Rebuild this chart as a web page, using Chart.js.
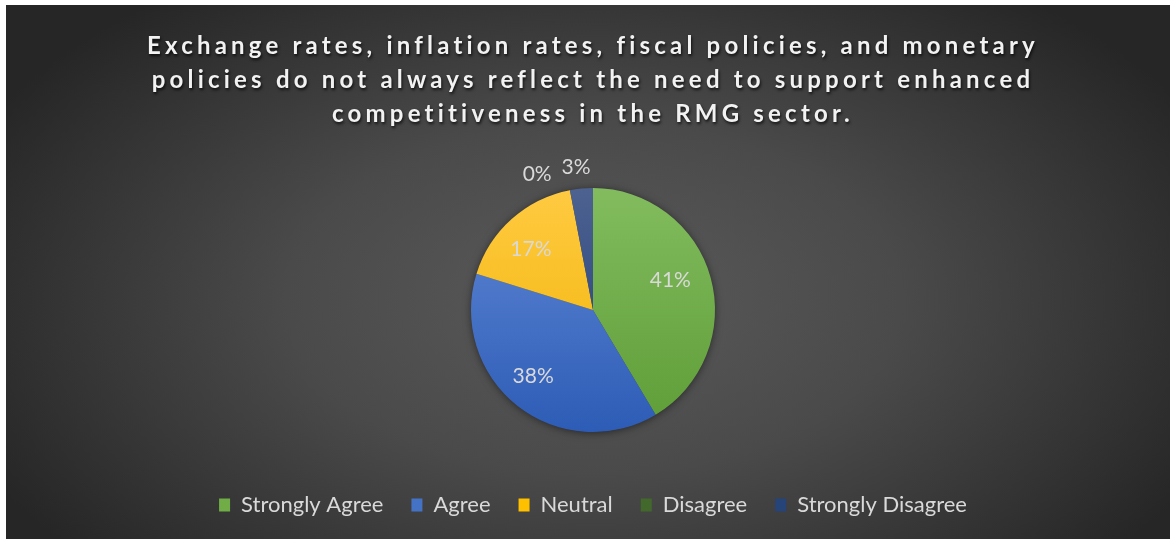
<!DOCTYPE html>
<html>
<head>
<meta charset="utf-8">
<script src="https://cdn.jsdelivr.net/npm/chart.js@4.4.1/dist/chart.umd.min.js"></script>
<style>
  html, body { margin: 0; padding: 0; background: #ffffff; }
  body { width: 1170px; height: 539px; position: relative; overflow: hidden; }
  #chart { position: absolute; left: 6px; top: 5px; }
</style>
</head>
<body>
<canvas id="chart" width="1164" height="534"></canvas>
<script>
// Survey responses (percent of respondents)
const categories = ['Strongly Agree', 'Agree', 'Neutral', 'Disagree', 'Strongly Disagree'];
const shares = [41, 38, 17, 0, 3];
const titleLines = [
  'Exchange rates, inflation rates, fiscal policies, and monetary',
  'policies do not always reflect the need to support enhanced',
  'competitiveness in the RMG sector.'
];

// Slice colours: [top of pie, bottom of pie]
const sliceShades = [
  ['#82bc5e', '#5e9d37'],
  ['#6189d6', '#2d5cb6'],
  ['#ffca42', '#efb300'],
  ['#517d35', '#3a5c25'],
  ['#4d6290', '#1d3a76']
];
const legendColors = ['#70ad47', '#4472c4', '#ffc000', '#43682b', '#264478'];

// Where each percentage label sits: fraction of radius and angle shift (deg)
const labelRadius = [0.68, 0.73, 0.71, 1.2, 1.18];
const labelShift = [-5.8, 4, -4, -11.5, -1.3];

const PIE_RADIUS = 122;
const TEXT_GREY = '#d9d9d9';
const FONT = 'Lato, "Open Sans", sans-serif';

const backdrop = {
  id: 'backdrop',
  beforeDraw(chart) {
    const { ctx, width, height } = chart;
    ctx.save();
    const cx = width * 0.505, cy = height * 0.55;
    ctx.translate(cx, cy);
    ctx.scale(1.75, 1);
    const g = ctx.createRadialGradient(0, 0, 0, 0, 0, 390);
    g.addColorStop(0, '#5a5a5a');
    g.addColorStop(0.45, '#4a4a4a');
    g.addColorStop(1, '#262626');
    ctx.fillStyle = g;
    ctx.fillRect(-cx / 1.75 - 10, -cy - 10, width / 1.75 + 20, height + 20);
    ctx.restore();
  }
};

// Soft shadow behind the whole pie
const pieShadow = {
  id: 'pieShadow',
  beforeDatasetsDraw(chart) {
    const arc = chart.getDatasetMeta(0).data[0];
    if (!arc) return;
    const { ctx } = chart;
    ctx.save();
    ctx.shadowColor = 'rgba(0,0,0,0.55)';
    ctx.shadowBlur = 9;
    ctx.shadowOffsetY = 1;
    ctx.beginPath();
    ctx.arc(arc.x, arc.y, arc.outerRadius - 0.5, 0, Math.PI * 2);
    ctx.fillStyle = '#4a4a4a';
    ctx.fill();
    ctx.restore();
  }
};

// Percentage labels placed from each arc's own geometry
const sliceLabels = {
  id: 'sliceLabels',
  afterDatasetsDraw(chart) {
    const { ctx } = chart;
    const meta = chart.getDatasetMeta(0);
    ctx.save();
    ctx.font = '21px ' + FONT;
    ctx.fillStyle = TEXT_GREY;
    ctx.textAlign = 'center';
    ctx.textBaseline = 'middle';
    meta.data.forEach((arc, i) => {
      const mid = (arc.startAngle + arc.endAngle) / 2 + labelShift[i] * Math.PI / 180;
      const r = arc.outerRadius * labelRadius[i];
      ctx.fillText(shares[i] + '%', arc.x + r * Math.cos(mid), arc.y + r * Math.sin(mid));
    });
    ctx.restore();
  }
};

// Spaced, shadowed title text
const titleStyle = {
  id: 'titleStyle',
  afterInit(chart) {
    const block = chart.titleBlock;
    if (!block || block._styled) return;
    const orig = block.draw;
    block.draw = function () {
      const c = this.ctx;
      c.save();
      c.letterSpacing = '4.2px';
      c.shadowColor = 'rgba(0,0,0,0.75)';
      c.shadowBlur = 3;
      c.shadowOffsetX = 1;
      c.shadowOffsetY = 2;
      orig.apply(this, arguments);
      c.restore();
    };
    block._styled = true;
  }
};

function sliceFill(context) {
  const i = context.dataIndex;
  const chart = context.chart;
  const area = chart.chartArea;
  if (!area) return legendColors[i];
  const cy = (area.top + area.bottom) / 2;
  const g = chart.ctx.createLinearGradient(0, cy - PIE_RADIUS, 0, cy + PIE_RADIUS);
  g.addColorStop(0, sliceShades[i][0]);
  g.addColorStop(1, sliceShades[i][1]);
  return g;
}

new Chart(document.getElementById('chart'), {
  type: 'pie',
  data: {
    labels: categories,
    datasets: [{
      data: shares,
      backgroundColor: sliceFill,
      borderWidth: 0,
      radius: PIE_RADIUS
    }]
  },
  plugins: [backdrop, pieShadow, sliceLabels, titleStyle],
  options: {
    responsive: false,
    animation: false,
    devicePixelRatio: 1,
    layout: { padding: { top: 0, bottom: 13, left: 10, right: 0 } },
    plugins: {
      tooltip: { enabled: false },
      title: {
        display: true,
        text: titleLines,
        color: '#f2f2f2',
        font: { family: FONT, size: 24, weight: 'bold', lineHeight: 34 / 24 },
        padding: { top: 24, bottom: 23 }
      },
      legend: {
        position: 'bottom',
        labels: {
          color: TEXT_GREY,
          font: { family: FONT, size: 22 },
          boxWidth: 11,
          boxHeight: 13,
          padding: 28,
          generateLabels(chart) {
            return categories.map((c, i) => ({
              text: c,
              fillStyle: legendColors[i],
              strokeStyle: 'rgba(0,0,0,0)',
              lineWidth: 0,
              fontColor: TEXT_GREY,
              hidden: false,
              index: i
            }));
          }
        }
      }
    }
  }
});
</script>
</body>
</html>
